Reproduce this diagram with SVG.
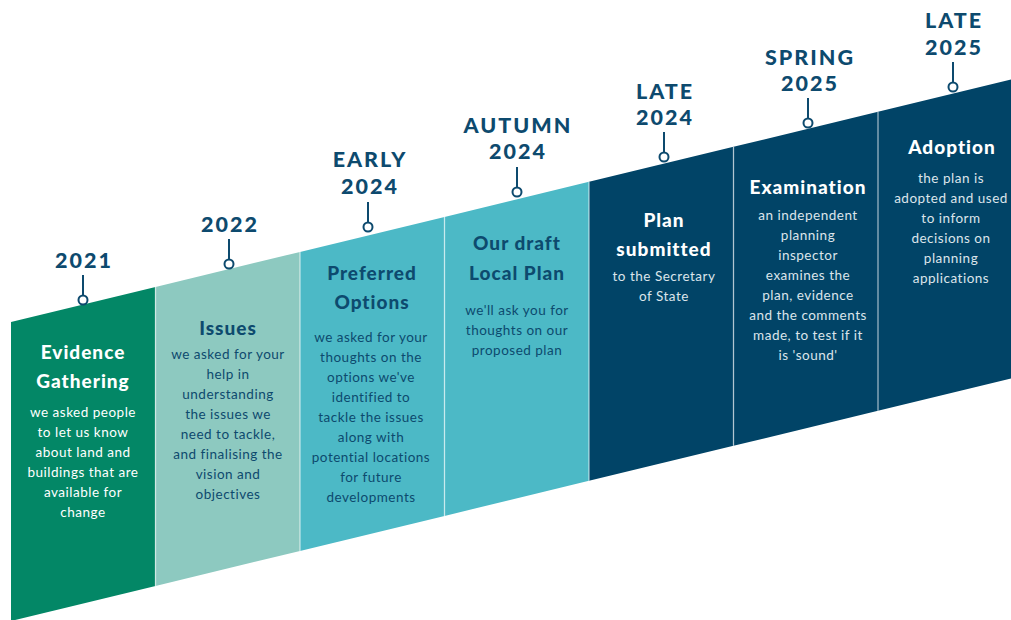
<svg xmlns="http://www.w3.org/2000/svg" width="1011" height="620" viewBox="0 0 1011 620">
<style>
.yr{font-family:Lato,"Liberation Sans",sans-serif;font-weight:900;font-size:21.5px;letter-spacing:2px;fill:#0d4a6e;text-anchor:middle}
.hd{font-family:Lato,"Liberation Sans",sans-serif;font-weight:900;font-size:19px;letter-spacing:1px;text-anchor:middle}
.bd{font-family:Lato,"Liberation Sans",sans-serif;font-size:13.5px;letter-spacing:0.5px;text-anchor:middle}
.lt{fill:#ffffff}
.dk{fill:#0d4a6e}
.pl{fill:#dce5eb}
.div{stroke:#ffffff;stroke-opacity:0.6;stroke-width:1.3}
.pin line{stroke:#0d4a6e;stroke-width:2}
.pin circle{fill:#ffffff;stroke:#0d4a6e;stroke-width:2}
</style>
<rect width="1011" height="620" fill="#ffffff"/>
<g id="band">
<polygon points="11,322 155.5,287 155.5,586 11,621" fill="#038766"/>
<polygon points="155.5,287 300,251.9 300,550.9 155.5,586" fill="#8dc9c0"/>
<polygon points="300,251.9 444.5,216.9 444.5,515.9 300,550.9" fill="#4cb9c6"/>
<polygon points="444.5,216.9 589,181.8 589,480.8 444.5,515.9" fill="#4cb9c6"/>
<polygon points="589,181.8 733.5,146.8 733.5,445.8 589,480.8" fill="#014467"/>
<polygon points="733.5,146.8 878,111.75 878,410.75 733.5,445.8" fill="#014467"/>
<polygon points="878,111.75 1011,79.5 1011,378.5 878,410.75" fill="#014467"/>
<line class="div" x1="155.5" y1="287" x2="155.5" y2="586"/>
<line class="div" x1="300" y1="251.9" x2="300" y2="550.9"/>
<line class="div" x1="444.5" y1="216.9" x2="444.5" y2="515.9"/>
<line class="div" x1="589" y1="181.8" x2="589" y2="480.8"/>
<line class="div" x1="733.5" y1="146.8" x2="733.5" y2="445.8"/>
<line class="div" x1="878" y1="111.75" x2="878" y2="410.75"/>
</g>
<g id="connectors" class="pin">
<line x1="83" y1="275" x2="83" y2="295.5"/><circle cx="83" cy="300" r="4.5"/>
<line x1="229" y1="239" x2="229" y2="259.5"/><circle cx="229" cy="264" r="4.5"/>
<line x1="368" y1="202" x2="368" y2="222.5"/><circle cx="368" cy="227" r="4.5"/>
<line x1="517" y1="167" x2="517" y2="187.5"/><circle cx="517" cy="192" r="4.5"/>
<line x1="664" y1="132" x2="664" y2="152.5"/><circle cx="664" cy="157" r="4.5"/>
<line x1="808" y1="98" x2="808" y2="118.5"/><circle cx="808" cy="123" r="4.5"/>
<line x1="953" y1="62" x2="953" y2="82.5"/><circle cx="953" cy="87" r="4.5"/>
</g>
<g id="n2021">
<text class="yr" x="84" y="268">2021</text>
<text class="hd lt" x="83" y="359">Evidence</text>
<text class="hd lt" x="83" y="388">Gathering</text>
<text class="bd lt" x="83"><tspan x="83" y="417">we asked people</tspan><tspan x="83" y="437">to let us know</tspan><tspan x="83" y="457">about land and</tspan><tspan x="83" y="477">buildings that are</tspan><tspan x="83" y="497">available for</tspan><tspan x="83" y="517">change</tspan></text>
</g>
<g id="n2022">
<text class="yr" x="230" y="232">2022</text>
<text class="hd dk" x="228" y="335">Issues</text>
<text class="bd dk"><tspan x="228" y="359">we asked for your</tspan><tspan x="228" y="379">help in</tspan><tspan x="228" y="399">understanding</tspan><tspan x="228" y="419">the issues we</tspan><tspan x="228" y="439">need to tackle,</tspan><tspan x="228" y="459">and finalising the</tspan><tspan x="228" y="479">vision and</tspan><tspan x="228" y="499">objectives</tspan></text>
</g>
<g id="early2024">
<text class="yr" x="370" y="167">EARLY</text>
<text class="yr" x="370" y="194">2024</text>
<text class="hd dk" x="372" y="280">Preferred</text>
<text class="hd dk" x="372" y="309">Options</text>
<text class="bd dk"><tspan x="371" y="342">we asked for your</tspan><tspan x="371" y="362">thoughts on the</tspan><tspan x="371" y="382">options we've</tspan><tspan x="371" y="402">identified to</tspan><tspan x="371" y="422">tackle the issues</tspan><tspan x="371" y="442">along with</tspan><tspan x="371" y="462">potential locations</tspan><tspan x="371" y="482">for future</tspan><tspan x="371" y="502">developments</tspan></text>
</g>
<g id="autumn2024">
<text class="yr" x="518" y="133">AUTUMN</text>
<text class="yr" x="518" y="159">2024</text>
<text class="hd dk" x="517" y="250">Our draft</text>
<text class="hd dk" x="517" y="280">Local Plan</text>
<text class="bd dk"><tspan x="517" y="315">we'll ask you for</tspan><tspan x="517" y="335">thoughts on our</tspan><tspan x="517" y="355">proposed plan</tspan></text>
</g>
<g id="late2024">
<text class="yr" x="665" y="99">LATE</text>
<text class="yr" x="665" y="125">2024</text>
<text class="hd lt" x="664" y="227">Plan</text>
<text class="hd lt" x="664" y="256">submitted</text>
<text class="bd pl"><tspan x="664" y="281">to the Secretary</tspan><tspan x="664" y="301">of State</tspan></text>
</g>
<g id="spring2025">
<text class="yr" x="810" y="65">SPRING</text>
<text class="yr" x="810" y="91">2025</text>
<text class="hd lt" x="808" y="194">Examination</text>
<text class="bd pl"><tspan x="808" y="220">an independent</tspan><tspan x="808" y="240">planning</tspan><tspan x="808" y="260">inspector</tspan><tspan x="808" y="280">examines the</tspan><tspan x="808" y="300">plan, evidence</tspan><tspan x="808" y="320">and the comments</tspan><tspan x="808" y="340">made, to test if it</tspan><tspan x="808" y="360">is 'sound'</tspan></text>
</g>
<g id="late2025">
<text class="yr" x="954" y="28">LATE</text>
<text class="yr" x="954" y="55">2025</text>
<text class="hd lt" x="952" y="154">Adoption</text>
<text class="bd pl"><tspan x="951" y="183">the plan is</tspan><tspan x="951" y="203">adopted and used</tspan><tspan x="951" y="223">to inform</tspan><tspan x="951" y="243">decisions on</tspan><tspan x="951" y="263">planning</tspan><tspan x="951" y="283">applications</tspan></text>
</g>
</svg>
